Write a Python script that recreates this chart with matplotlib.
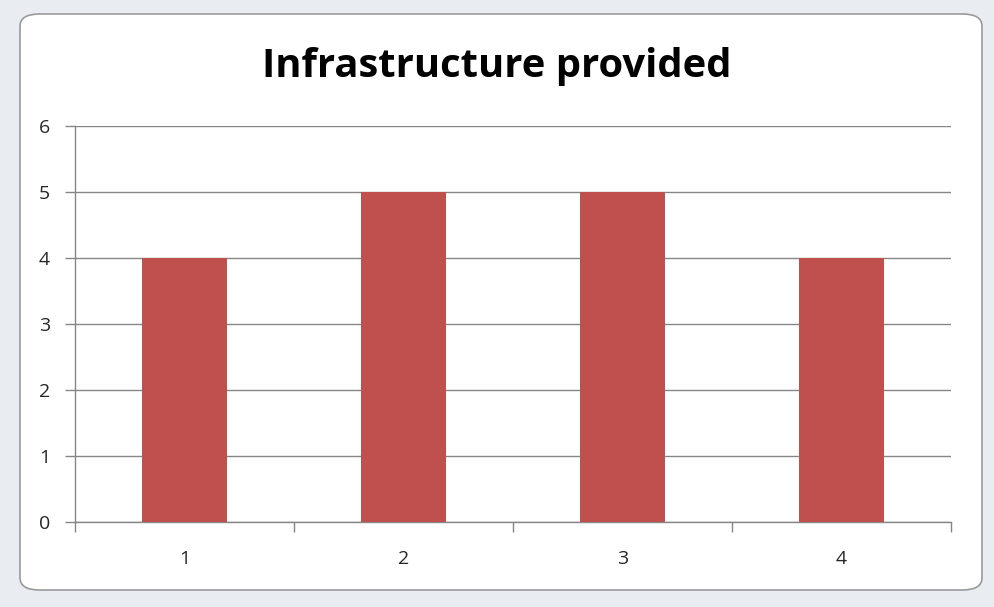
import matplotlib
matplotlib.use("Agg")
import matplotlib.pyplot as plt
from matplotlib.patches import FancyBboxPatch

categories = ["1", "2", "3", "4"]
values = [4, 5, 5, 4]
y_ticks = [0, 1, 2, 3, 4, 5, 6]

fig = plt.figure(figsize=(9.94, 6.07), dpi=100)
fig.patch.set_facecolor("#e9edf2")

# white rounded chart area
box = FancyBboxPatch((20/994, (607-590)/607), (982-20)/994, (590-14)/607,
                     boxstyle="round,pad=0,rounding_size=0.02",
                     transform=fig.transFigure, facecolor="white",
                     edgecolor="#9a9a9a", linewidth=1.2, zorder=-5)
fig.patches.append(box)

ax = fig.add_axes([75/994, (607-522)/607, (951-75)/994, (522-126)/607])
ax.set_zorder(2)
ax.set_facecolor("none")
x = list(range(len(categories)))
ax.bar(x, values, width=0.39, color="#C0504D", zorder=3)
ax.set_xlim(-0.5, len(categories) - 0.5)
ax.set_ylim(0, 6)
ax.set_yticks(y_ticks)
ax.set_yticklabels([str(v) for v in y_ticks])
ax.yaxis.grid(True, color="#868686", linewidth=1.0, zorder=0)
ax.set_axisbelow(True)
for s in ["top", "right"]:
    ax.spines[s].set_visible(False)
for s in ["left", "bottom"]:
    ax.spines[s].set_color("#868686")
    ax.spines[s].set_linewidth(1.0)

ax.set_xticks(x)
ax.set_xticklabels(categories)
ax.tick_params(axis="x", length=0, pad=20, labelsize=14, labelcolor="#262626")
ax.set_xticks([i - 0.5 for i in range(len(categories) + 1)], minor=True)
ax.tick_params(axis="x", which="minor", length=7, color="#868686", width=1.0)
ax.tick_params(axis="y", length=7, color="#868686", width=1.0, pad=11,
               labelsize=14, labelcolor="#262626")
for lbl in ax.get_xticklabels() + ax.get_yticklabels():
    lbl.set_family("Open Sans")

fig.text(0.5, (607-67)/607, "Infrastructure provided", ha="center", va="center",
         fontsize=28.8, fontweight="bold", family="Open Sans", color="black",
         zorder=3)

fig.savefig("out.png", dpi=100, facecolor=fig.get_facecolor())
